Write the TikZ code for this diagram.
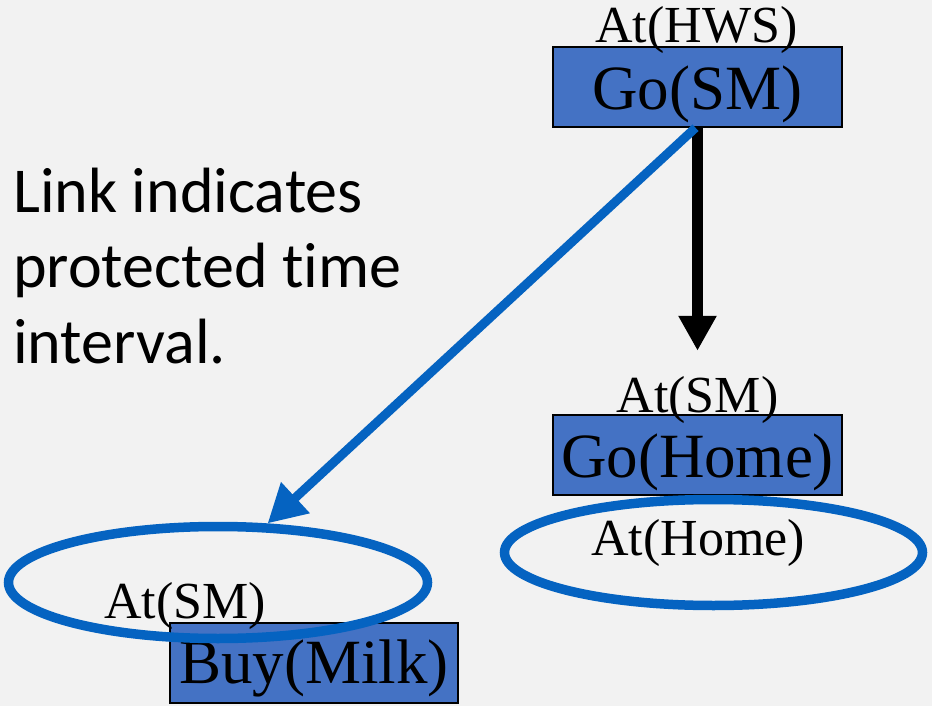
\documentclass[tikz,border=0pt]{standalone}
\usepackage{fontspec}
\setmainfont{Liberation Serif}
\newfontfamily\notefont[RawFeature=-liga]{Carlito}
\usetikzlibrary{arrows.meta,shapes.geometric}

\definecolor{pagebg}{HTML}{F2F2F2}
\definecolor{stepfill}{HTML}{4472C4}
\definecolor{linkblue}{HTML}{0563C1}

\tikzset{
  actionbox/.style={draw=black, line width=1.5pt, fill=stepfill, inner sep=0pt,
    minimum width=289pt, minimum height=80pt,
    font=\fontsize{63}{63}\selectfont},
  condlabel/.style={inner sep=0pt, anchor=base, font=\fontsize{52}{52}\selectfont},
  protect/.style={draw=linkblue, line width=9.5pt, ellipse, inner sep=0pt},
  notetext/.style={inner sep=0pt, anchor=base west, font=\notefont\fontsize{64}{64}\selectfont},
  orderarrow/.style={draw=black, line width=11pt, -{Triangle[width=36pt,length=35pt]}},
  linkarrow/.style={draw=linkblue, line width=9pt, -{Triangle[width=40pt,length=38pt]}}
}

\begin{document}
\begin{tikzpicture}[x=1pt, y=-1pt]
  \fill[pagebg] (0,0) rectangle (932,706);
  \useasboundingbox (0,0) rectangle (932,706);

  % actions
  \node[actionbox, text height=63pt, text depth=17pt] (gosm)   at (697.5,87)  {Go(SM)};
  \node[actionbox, text height=62pt, text depth=18pt] (gohome) at (697.5,455) {Go(Home)};
  \node[actionbox, minimum width=288pt, text height=60pt, text depth=20pt] (buymilk) at (314,663) {Buy(Milk)};

  % protected conditions
  \node[protect, minimum width=418pt, minimum height=106pt] (homecond) at (713.5,552.5) {};
  \node[protect, minimum width=419pt, minimum height=112pt] (smcond) at (218,582.5) {};

  % condition labels
  \node[condlabel] (athws)   at (696.5,43)  {At(HWS)};
  \node[condlabel] (atsmr)   at (697.5,412) {At(SM)};
  \node[condlabel] (athome)  at (698,555)   {At(Home)};
  \node[condlabel] (atsml)   at (185,618)   {At(SM)};

  % explanatory note
  \node[notetext] (note1) at (13,212)   {Link indicates};
  \node[notetext] (note2) at (13,287.5) {protected time};
  \node[notetext] (note3) at (13,363)   {interval.};

  % ordering constraint and causal link
  \coordinate (orderend) at ([yshift=-223pt]gosm.south);
  \draw[orderarrow] (gosm.south) -- (orderend);
  \draw[linkarrow] ([xshift=-2pt]gosm.south) -- (smcond.50);
\end{tikzpicture}
\end{document}
